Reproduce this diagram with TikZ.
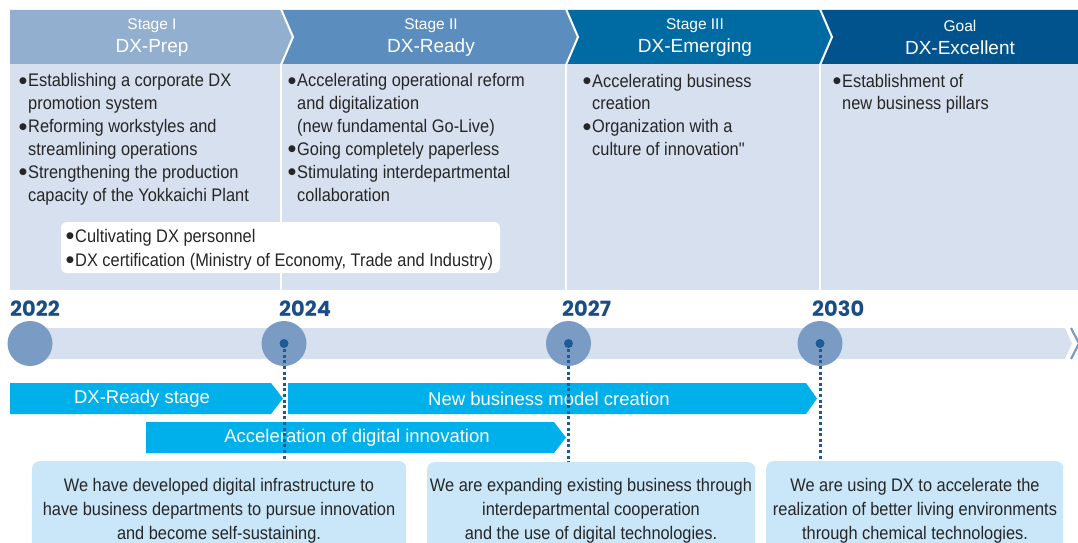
\documentclass[tikz,border=0pt]{standalone}
\usepackage{fontspec}
\setmainfont{Liberation Sans}
\newfontfamily\condf[FakeStretch=0.9]{Liberation Sans}
\newfontfamily\yearf{Poppins}
\newfontfamily\dejavu{DejaVu Sans}
\newcommand\bul{\makebox[9pt][l]{\dejavu\fontsize{9}{9}\selectfont\raisebox{3.6pt}{●}}}
\newcommand\ind{\hspace*{9pt}}
\definecolor{headI}{HTML}{93AFD0}
\definecolor{headII}{HTML}{5B8DBF}
\definecolor{headIII}{HTML}{006BA3}
\definecolor{headG}{HTML}{00538D}
\definecolor{paneC}{HTML}{D6E0EF}
\definecolor{circC}{HTML}{7A9CC4}
\definecolor{dotC}{HTML}{1E5A94}
\definecolor{bandC}{HTML}{00B0EB}
\definecolor{boxC}{HTML}{C9E7F8}
\definecolor{yearC}{HTML}{1A4C85}
\definecolor{txtC}{HTML}{262626}
\tikzset{
  stagesmall/.style={text=white, inner sep=0pt, font=\fontsize{15.5}{18}\selectfont},
  stagebig/.style={text=white, inner sep=0pt, font=\fontsize{19}{22}\selectfont},
  bodytxt/.style={text=txtC, inner sep=0pt, align=left, anchor=base west, font=\condf\fontsize{18.2}{22.6}\selectfont},
  boxtxt/.style={text=txtC, inner sep=0pt, align=center, font=\condf\fontsize{18.2}{24}\selectfont},
  yeartxt/.style={text=yearC, inner sep=0pt, anchor=base west, font=\yearf\bfseries\fontsize{21}{24}\selectfont},
  bandtxt/.style={text=white, inner sep=0pt, font=\fontsize{18.5}{22}\selectfont},
  milestone/.style={circle, fill=circC, minimum size=45pt, inner sep=0pt},
  pin/.style={circle, fill=dotC, minimum size=9pt, inner sep=0pt},
  dotline/.style={draw=dotC, line width=3pt, dash pattern=on 3pt off 2.6pt},
  infobox/.style={fill=boxC, rounded corners=7pt},
  sep/.style={draw=white, line width=2pt},
}
\begin{document}
\begin{tikzpicture}[x=1pt,y=-1pt]
\useasboundingbox (0,0) rectangle (1078,543);
\clip (0,0) rectangle (1078,543);
% content panel
\fill[paneC] (10,64) rectangle (1078,290);
\foreach \xx in {281,566,820} \draw[sep] (\xx,64) -- (\xx,290);
% headers
\fill[headG] (820,10) -- (1078,10) -- (1078,64) -- (820,64) -- (832,37) -- cycle;
\fill[headIII] (566,10) -- (820,10) -- (832,37) -- (820,64) -- (566,64) -- (578,37) -- cycle;
\fill[headII] (281,10) -- (566,10) -- (578,37) -- (566,64) -- (281,64) -- (293,37) -- cycle;
\fill[headI] (10,10) -- (281,10) -- (293,37) -- (281,64) -- (10,64) -- cycle;
\draw[sep] (281,9) -- (293,37) -- (281,65);
\draw[sep] (566,9) -- (578,37) -- (566,65);
\draw[sep] (820,9) -- (832,37) -- (820,65);
\node[stagesmall] (s1) at (152,26) {Stage I};
\node[stagebig] (n1) at (152,48) {DX-Prep};
\node[stagesmall] (s2) at (431,26) {Stage II};
\node[stagebig] (n2) at (431,48) {DX-Ready};
\node[stagesmall] (s3) at (695,26) {Stage III};
\node[stagebig] (n3) at (695,48) {DX-Emerging};
\node[stagesmall] (s4) at (960,26) {Goal};
\node[stagebig] (n4) at (960,48) {DX-Excellent};
% bullets (anchor = baseline of the last line)
\node[bodytxt] (b1) at (19,201) {\bul Establishing a corporate DX\\\ind promotion system\\[0.6pt]\bul Reforming workstyles and\\\ind streamlining operations\\[0.6pt]\bul Strengthening the production\\\ind capacity of the Yokkaichi Plant};
\node[bodytxt] (b2) at (288,201) {\bul Accelerating operational reform\\\ind and digitalization\\\ind (new fundamental Go-Live)\\[0.6pt]\bul Going completely paperless\\[0.6pt]\bul Stimulating interdepartmental\\\ind collaboration};
\node[bodytxt] (b3) at (583,155.4) {\bul Accelerating business\\\ind creation\\[0.6pt]\bul Organization with a\\\ind culture of innovation"};
\node[bodytxt] (b4) at (833,109.6) {\bul Establishment of\\\ind new business pillars};
% white box
\fill[white, rounded corners=6pt] (61,222) rectangle (500,273);
\node[bodytxt] (wb) at (66,266) {\bul Cultivating DX personnel\\[1pt]\bul DX certification (Ministry of Economy, Trade and Industry)};
% timeline
\fill[paneC] (30,328) -- (1065,328) -- (1072,343.5) -- (1065,359) -- (30,359) -- cycle;
\draw[circC, line width=2.2pt] (1071,328) -- (1079,343.5) -- (1071,359);
\node[milestone] (c1) at (30,343.5) {};
\node[milestone] (c2) at (284,343.5) {};
\node[milestone] (c3) at (568.5,343.5) {};
\node[milestone] (c4) at (820,343.5) {};
\node[yeartxt] (y1) at (10,316) {2022};
\node[yeartxt] (y2) at (279,316) {2024};
\node[yeartxt] (y3) at (562,316) {2027};
\node[yeartxt] (y4) at (812,316) {2030};
% bands
\fill[bandC] (10,383) -- (271,383) -- (283,398.5) -- (271,414) -- (10,414) -- cycle;
\fill[bandC] (288,383) -- (806,383) -- (817,398.5) -- (806,414) -- (288,414) -- cycle;
\fill[bandC] (146,422) -- (554,422) -- (566,437.5) -- (554,453) -- (146,453) -- cycle;
\node[bandtxt] (t1) at (142,399) {DX-Ready stage};
\node[bandtxt] (t2) at (549,399) {New business model creation};
\node[bandtxt] (t3) at (357,438) {Acceleration of digital innovation};
% info boxes
\node[infobox, minimum width=374pt, minimum height=110pt, anchor=north west] (box1) at (32,461) {};
\node[infobox, minimum width=328pt, minimum height=110pt, anchor=north west] (box2) at (427,462) {};
\node[infobox, minimum width=297pt, minimum height=110pt, anchor=north west] (box3) at (766,461) {};
\node[boxtxt, anchor=base] (bt1) at (219,539) {We have developed digital infrastructure to\\have business departments to pursue innovation\\and become self-sustaining.};
\node[boxtxt, anchor=base] (bt2) at (591,539) {We are expanding existing business through\\interdepartmental cooperation\\and the use of digital technologies.};
\node[boxtxt, anchor=base] (bt3) at (915,539) {We are using DX to accelerate the\\realization of better living environments\\through chemical technologies.};
% pins and dotted connectors
\node[pin] (p2) at (c2.center) {};
\node[pin] (p3) at (c3.center) {};
\node[pin] (p4) at (c4.center) {};
\draw[dotline] (p2.center) -- (p2.center |- box1.north);
\draw[dotline] (p3.center) -- (p3.center |- box2.north);
\draw[dotline] (p4.center) -- (p4.center |- box3.north);
\end{tikzpicture}
\end{document}
